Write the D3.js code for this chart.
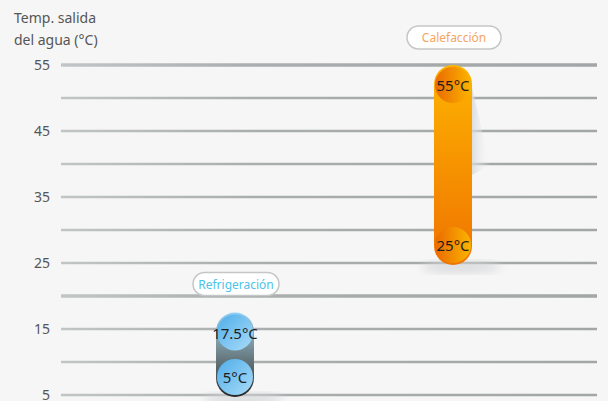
<!DOCTYPE html>
<html>
<head>
<meta charset="utf-8">
<script src="https://cdn.jsdelivr.net/npm/d3@7"></script>
<style>
  body { margin:0; background:#f6f6f6; }
  svg { display:block; font-family:"Noto Sans", "Open Sans", sans-serif; }
</style>
</head>
<body>
<div id="chart"></div>
<script>
var categories = ["Refrigeración", "Calefacción"];
var minTemp = [5, 25];
var maxTemp = [17.5, 55];
var tickValues = [5, 15, 25, 35, 45, 55];
var gridValues = [5, 10, 15, 20, 25, 30, 35, 40, 45, 50, 55];
var axisTitle = ["Temp. salida", "del agua (°C)"];

var width = 608, height = 401;

var svg = d3.select("#chart").append("svg")
    .attr("width", width)
    .attr("height", height);

svg.append("rect").attr("width", width).attr("height", height).attr("fill", "#f6f6f6");

var y = d3.scaleLinear().domain([5, 55]).range([395, 65]);
var x = d3.scaleBand().domain(categories).range([126, 562]);

var defs = svg.append("defs");

var gridGrad = defs.append("linearGradient").attr("id", "gridGrad")
    .attr("gradientUnits", "userSpaceOnUse")
    .attr("x1", 61).attr("x2", 597).attr("y1", 0).attr("y2", 0);
gridGrad.append("stop").attr("offset", "0%").attr("stop-color", "#c2c5c6");
gridGrad.append("stop").attr("offset", "35%").attr("stop-color", "#abaeaf");
gridGrad.append("stop").attr("offset", "100%").attr("stop-color", "#a2a6a6");

var orangeBar = defs.append("linearGradient").attr("id", "orangeBar")
    .attr("x1", 0).attr("y1", 0).attr("x2", 0).attr("y2", 1);
orangeBar.append("stop").attr("offset", "0%").attr("stop-color", "#fdb400");
orangeBar.append("stop").attr("offset", "100%").attr("stop-color", "#f07300");

var orangeDot = defs.append("linearGradient").attr("id", "orangeDot");
orangeDot.append("stop").attr("offset", "0%").attr("stop-color", "#ea6a00");
orangeDot.append("stop").attr("offset", "100%").attr("stop-color", "#fbb400");

var blueBar = defs.append("linearGradient").attr("id", "blueBar")
    .attr("x1", 0).attr("y1", 0).attr("x2", 0).attr("y2", 1);
blueBar.append("stop").attr("offset", "0%").attr("stop-color", "#8fd0f4");
blueBar.append("stop").attr("offset", "35%").attr("stop-color", "#7f9ba6");
blueBar.append("stop").attr("offset", "65%").attr("stop-color", "#59676a");
blueBar.append("stop").attr("offset", "100%").attr("stop-color", "#262626");

var blueDot = defs.append("linearGradient").attr("id", "blueDot")
    .attr("x1", 0).attr("y1", 0).attr("x2", 1).attr("y2", 1);
blueDot.append("stop").attr("offset", "0%").attr("stop-color", "#4fadea");
blueDot.append("stop").attr("offset", "100%").attr("stop-color", "#a9dcf8");

var shadowGrad = defs.append("linearGradient").attr("id", "shadowGrad");
shadowGrad.append("stop").attr("offset", "0%").attr("stop-color", "#d2d4d6").attr("stop-opacity", 0.9);
shadowGrad.append("stop").attr("offset", "100%").attr("stop-color", "#f6f6f6").attr("stop-opacity", 0);

defs.append("filter").attr("id", "blur").append("feGaussianBlur").attr("stdDeviation", 5);

// grid lines
svg.append("g").selectAll("line")
  .data(gridValues)
  .enter().append("line")
    .attr("x1", 61).attr("x2", 597)
    .attr("y1", function(d) { return y(d); })
    .attr("y2", function(d) { return y(d); })
    .attr("stroke", "url(#gridGrad)")
    .attr("stroke-width", function(d) { return (d == 20 || d == 55) ? 3.5 : 2.5; });

// y axis tick labels
var axis = d3.axisLeft(y).tickValues(tickValues).tickSize(0).tickPadding(0);
var ga = svg.append("g").attr("transform", "translate(50,0)").call(axis);
ga.select(".domain").remove();
ga.selectAll("text")
    .attr("fill", "#555")
    .attr("font-size", 14)
    .attr("font-family", "Noto Sans, sans-serif");

svg.append("text")
    .attr("x", 14).attr("y", 23)
    .attr("font-size", 14).attr("fill", "#555")
    .selectAll("tspan").data(axisTitle).enter().append("tspan")
    .attr("x", 14).attr("dy", function(d, i) { return i ? 22 : 0; })
    .text(function(d) { return d; });

// soft shadows behind the bars
var barW = 38, r = 18;
var hot = 1, cold = 0;
var hx = x(categories[hot]) + x.bandwidth() / 2;

svg.append("path")
    .attr("d", "M" + (hx + barW / 2 - 2) + "," + (y(maxTemp[hot]) + 14) +
      " L" + (hx + barW / 2 + 18) + "," + (y(maxTemp[hot]) + 100) +
      " L" + (hx + barW / 2) + "," + (y(maxTemp[hot]) + 110) + "Z")
    .attr("fill", "url(#shadowGrad)");

categories.forEach(function(c, i) {
  svg.append("ellipse")
    .attr("cx", x(c) + x.bandwidth() / 2 + 8)
    .attr("cy", y(minTemp[i]) + 4)
    .attr("rx", 40).attr("ry", 6)
    .attr("fill", "#d4d5d7")
    .attr("opacity", 0.8)
    .attr("filter", "url(#blur)");
});

// bars
var bars = svg.append("g").selectAll("g")
  .data(categories)
  .enter().append("g")
    .attr("transform", function(d) { return "translate(" + (x(d) + x.bandwidth() / 2) + ",0)"; });

bars.append("rect")
    .attr("x", -barW / 2)
    .attr("y", function(d, i) { return y(maxTemp[i]); })
    .attr("width", barW)
    .attr("height", function(d, i) { return y(minTemp[i]) - y(maxTemp[i]) + 2; })
    .attr("rx", barW / 2)
    .attr("fill", function(d, i) { return i == hot ? "url(#orangeBar)" : "url(#blueBar)"; });

bars.each(function(d, i) {
  var g = d3.select(this);
  var vals = [maxTemp[i], minTemp[i]];
  var cy = [y(maxTemp[i]) + r + 2, y(minTemp[i]) - r];
  vals.forEach(function(v, k) {
    g.append("circle")
      .attr("cx", 0).attr("cy", cy[k]).attr("r", r)
      .attr("fill", i == hot ? "url(#orangeDot)" : "url(#blueDot)");
    g.append("text")
      .attr("x", 0).attr("y", cy[k] + 6)
      .attr("text-anchor", "middle")
      .attr("font-size", 15)
      .attr("fill", "#1e1e1e")
      .text(String(v) + "°C");
  });
});

// category pills
var pillColor = ["#4cc3ea", "#f6a55e"];
var pillW = [86, 94];
var pillY = [y(maxTemp[0]) - 40, y(maxTemp[1]) - 39];
var pill = svg.append("g").selectAll("g")
  .data(categories)
  .enter().append("g")
    .attr("transform", function(d, i) { return "translate(" + (x(d) + x.bandwidth() / 2 + 1) + "," + pillY[i] + ")"; });

pill.append("rect")
    .attr("x", function(d, i) { return -pillW[i] / 2; })
    .attr("y", 0)
    .attr("width", function(d, i) { return pillW[i]; })
    .attr("height", 23)
    .attr("rx", 11.5)
    .attr("fill", "#fff")
    .attr("stroke", "#c4c6c7")
    .attr("stroke-width", 1.5);

pill.append("text")
    .attr("x", 0).attr("y", 16)
    .attr("text-anchor", "middle")
    .attr("font-size", 12)
    .attr("fill", function(d, i) { return pillColor[i]; })
    .text(function(d) { return d; });
</script>
</body>
</html>
